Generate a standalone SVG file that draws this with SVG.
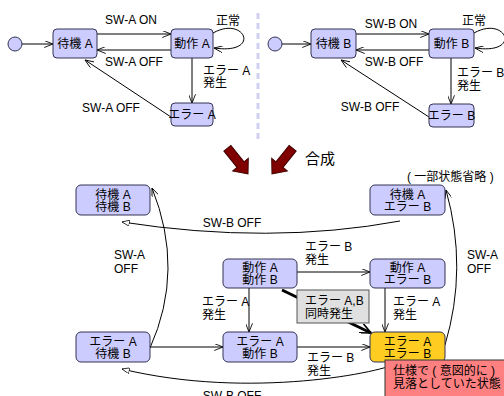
<svg xmlns="http://www.w3.org/2000/svg" width="504" height="396" viewBox="0 0 504 396">
<defs>
<style>
text{font-family:"Liberation Sans","Noto Sans CJK JP",sans-serif;font-size:12px;fill:#000}
.st{fill:#ccccff;stroke:#333355;stroke-width:1}
.ln{fill:none;stroke:#000;stroke-width:1}
.c{text-anchor:middle}
.big{fill:#800000;stroke:#400000;stroke-width:1}
</style>
<marker id="v" viewBox="0 0 10 8" refX="10" refY="4" markerWidth="9" markerHeight="7" orient="auto" markerUnits="userSpaceOnUse">
<path d="M0,0 L10,4 L0,8" fill="none" stroke="#000" stroke-width="1"/>
</marker>
<marker id="tri" viewBox="0 0 10 8" refX="10" refY="4" markerWidth="8" markerHeight="6" orient="auto" markerUnits="userSpaceOnUse">
<path d="M0,0 L10,4 L0,8 z" fill="#fff" stroke="#000" stroke-width="1"/>
</marker>
<marker id="vb" viewBox="0 0 14 12" refX="13" refY="6" markerWidth="12" markerHeight="10" orient="auto" markerUnits="userSpaceOnUse">
<path d="M0,0 L13,6 L0,12" fill="none" stroke="#000" stroke-width="2"/>
</marker>
<polygon id="bigarrow" points="-4.5,-33 4.5,-33 4.5,-12 10,-12 0,0 -10,-12 -4.5,-12"/>
</defs>
<rect width="504" height="396" fill="#fff"/>
<line x1="258" y1="13" x2="258" y2="143" stroke="#d0d0f0" stroke-width="3" stroke-dasharray="6,4"/>
<g id="connectors">
<line class="ln" x1="22" y1="44" x2="53" y2="44" marker-end="url(#v)"/>
<line class="ln" x1="97" y1="34" x2="171" y2="34" marker-end="url(#v)"/>
<line class="ln" x1="171" y1="50" x2="97" y2="50" marker-end="url(#v)"/>
<path class="ln" d="M213,33 C245,15 262,55 214,48" marker-end="url(#v)"/>
<line class="ln" x1="192" y1="58" x2="192" y2="103" marker-end="url(#v)"/>
<line class="ln" x1="171" y1="117" x2="85" y2="60" marker-end="url(#v)"/>
<line class="ln" x1="282" y1="44" x2="311" y2="44" marker-end="url(#v)"/>
<line class="ln" x1="356" y1="34" x2="429" y2="34" marker-end="url(#v)"/>
<line class="ln" x1="429" y1="50" x2="356" y2="50" marker-end="url(#v)"/>
<path class="ln" d="M474,33 C506,15 523,55 475,48" marker-end="url(#v)"/>
<line class="ln" x1="451" y1="58" x2="451" y2="104" marker-end="url(#v)"/>
<line class="ln" x1="429" y1="117" x2="341" y2="60" marker-end="url(#v)"/>
<path class="ln" d="M400,221 Q270,245 122,222" marker-end="url(#tri)"/>
<path class="ln" d="M150,348 Q185,270 152,188" marker-end="url(#v)"/>
<path class="ln" d="M445,345 Q468,268 446,190" marker-end="url(#v)"/>
<line class="ln" x1="297" y1="272" x2="370" y2="272" marker-end="url(#v)"/>
<line class="ln" x1="249" y1="288" x2="249" y2="332" marker-end="url(#v)"/>
<line class="ln" x1="385" y1="288" x2="385" y2="332" marker-end="url(#v)"/>
<line class="ln" x1="150" y1="347" x2="223" y2="347" marker-end="url(#v)"/>
<line class="ln" x1="297" y1="347" x2="370" y2="347" marker-end="url(#v)"/>
<path class="ln" d="M400,362 C385,372 250,400 122,369" marker-end="url(#tri)"/>
<line x1="282" y1="290" x2="371" y2="333" stroke="#000" stroke-width="3" marker-end="url(#vb)"/>
</g>
<g id="labels">
<text x="131" y="24" class="c">SW-A ON</text>
<text x="134" y="66" class="c">SW-A OFF</text>
<text x="228" y="25" class="c">正常</text>
<text x="203" y="75">エラー A</text>
<text x="203" y="87">発生</text>
<text x="111" y="112" class="c">SW-A OFF</text>
<text x="391" y="28" class="c">SW-B ON</text>
<text x="394" y="66" class="c">SW-B OFF</text>
<text x="462" y="25">正常</text>
<text x="457" y="77">エラー B</text>
<text x="457" y="90">発生</text>
<text x="370" y="111" class="c">SW-B OFF</text>
<text x="232" y="227" class="c">SW-B OFF</text>
<text x="114" y="259">SW-A</text>
<text x="114" y="273">OFF</text>
<text x="467" y="259">SW-A</text>
<text x="467" y="273">OFF</text>
<text x="305" y="251">エラー B</text>
<text x="305" y="264">発生</text>
<text x="202" y="306">エラー A</text>
<text x="202" y="319">発生</text>
<text x="393" y="306">エラー A</text>
<text x="393" y="319">発生</text>
<text x="307" y="362">エラー B</text>
<text x="307" y="375">発生</text>
<text x="232" y="400" class="c">SW-B OFF</text>
<text x="305" y="164" style="font-size:15px">合成</text>
<text x="407" y="181">( 一部状態省略 )</text>
</g>
<use href="#bigarrow" class="big" transform="translate(248,174) rotate(-38.7)"/>
<use href="#bigarrow" class="big" transform="translate(272,174) rotate(38.7)"/>
<g id="init-a"><circle class="st" cx="15" cy="44" r="7"/></g>
<g id="init-b"><circle class="st" cx="275" cy="44" r="7"/></g>
<g id="wait-a"><rect class="st" x="53" y="29" width="44" height="29" rx="4"/><text x="75" y="48" class="c">待機 A</text></g>
<g id="run-a"><rect class="st" x="171" y="29" width="42" height="29" rx="4"/><text x="192" y="48" class="c">動作 A</text></g>
<g id="err-a"><rect class="st" x="171" y="103" width="42" height="23" rx="4"/><text x="192" y="119" class="c">エラー A</text></g>
<g id="wait-b"><rect class="st" x="311" y="29" width="45" height="29" rx="4"/><text x="333.5" y="48" class="c">待機 B</text></g>
<g id="run-b"><rect class="st" x="429" y="29" width="45" height="29" rx="4"/><text x="451.5" y="48" class="c">動作 B</text></g>
<g id="err-b"><rect class="st" x="429" y="104" width="45" height="23" rx="4"/><text x="451.5" y="120" class="c">エラー B</text></g>
<g id="wa-wb"><rect class="st" x="76" y="185" width="74" height="30" rx="5"/><text x="113" y="199" class="c">待機 A</text><text x="113" y="211" class="c">待機 B</text></g>
<g id="wa-eb"><rect class="st" x="370" y="185" width="75" height="30" rx="5"/><text x="407.5" y="199" class="c">待機 A</text><text x="407.5" y="211" class="c">エラー B</text></g>
<g id="ra-rb"><rect class="st" x="223" y="259" width="74" height="29" rx="5"/><text x="260" y="272" class="c">動作 A</text><text x="260" y="284" class="c">動作 B</text></g>
<g id="ra-eb"><rect class="st" x="370" y="259" width="75" height="29" rx="5"/><text x="407.5" y="272" class="c">動作 A</text><text x="407.5" y="284" class="c">エラー B</text></g>
<g id="ea-wb"><rect class="st" x="76" y="332" width="74" height="30" rx="5"/><text x="113" y="346" class="c">エラー A</text><text x="113" y="358" class="c">待機 B</text></g>
<g id="ea-rb"><rect class="st" x="223" y="332" width="74" height="30" rx="5"/><text x="260" y="346" class="c">エラー A</text><text x="260" y="358" class="c">動作 B</text></g>
<g id="ea-eb"><rect x="370" y="332" width="75" height="30" rx="5" fill="#ffcc22" stroke="#333355"/><text x="407.5" y="346" class="c">エラー A</text><text x="407.5" y="358" class="c">エラー B</text></g>
<g id="note-simul"><rect x="297" y="290" width="72" height="33" fill="#e0e0e0" stroke="#555"/><text x="305" y="305">エラー A,B</text><text x="305" y="318">同時発生</text></g>
<g id="note-missed"><rect x="385" y="360" width="125" height="40" fill="#ff8080" stroke="#333"/><text x="393" y="375">仕様で ( 意図的に )</text><text x="393" y="388">見落としていた状態</text></g>
</svg>
